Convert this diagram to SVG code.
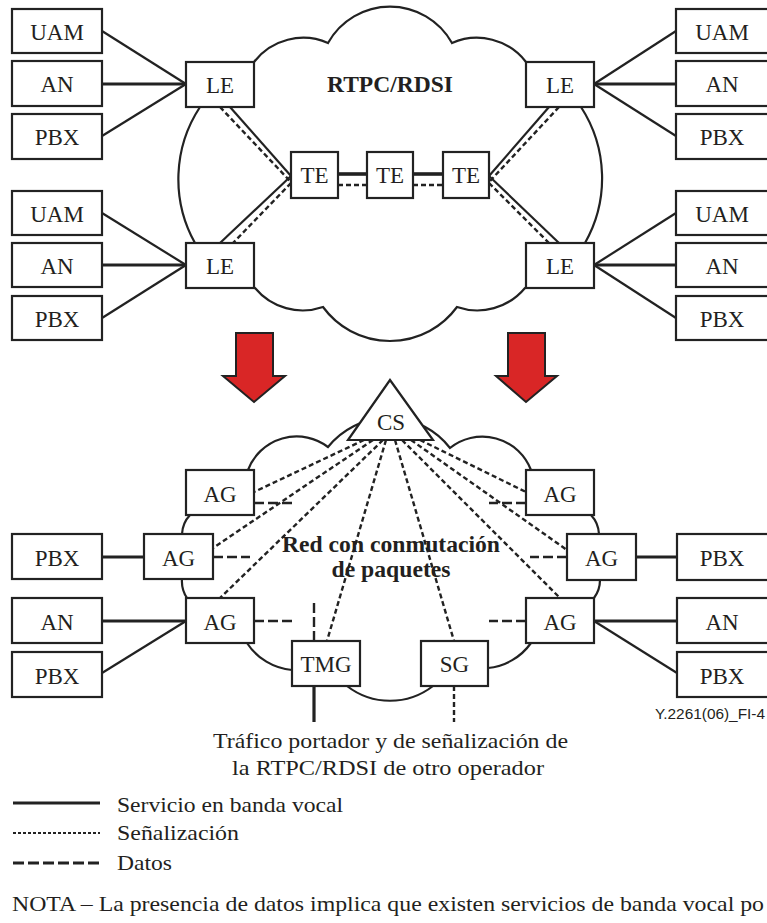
<svg xmlns="http://www.w3.org/2000/svg" width="767" height="923" viewBox="0 0 767 923">
<style>
.bx{fill:#fff;stroke:#222;stroke-width:2.2}
.t{font-family:"Liberation Serif","Times New Roman",serif;font-size:23px;fill:#231f20;text-anchor:middle}
.tb{font-family:"Liberation Serif","Times New Roman",serif;font-size:23px;font-weight:bold;fill:#231f20;text-anchor:middle}
.tl{font-family:"Liberation Serif","Times New Roman",serif;font-size:22px;fill:#231f20}
.cloud{fill:#fff;stroke:#222;stroke-width:2.2;stroke-linejoin:miter}
.v{stroke:#222;stroke-width:2.2;fill:none}
.vt{stroke:#222;stroke-width:3.2;fill:none}
.s{stroke:#222;stroke-width:2.4;stroke-dasharray:5 3;fill:none}
.d{stroke:#222;stroke-width:2.4;stroke-dasharray:10 4;fill:none}
.arr{fill:#d92626;stroke:#222;stroke-width:2}
</style>

<!-- clouds -->
<g id="cloud-rtpc">
<path class="cloud" d="M254,62 A62,62 0 0 1 328,43 A71,71 0 0 1 452,43 A62,62 0 0 1 526,62 L581,107 A131,131 0 0 1 585,243 L525,288 A62,62 0 0 1 457,307 A83,83 0 0 1 323,307 A62,62 0 0 1 255,288 L195,243 A131,131 0 0 1 200,107 Z"/>
</g>
<g id="cloud-packet">
<path class="cloud" d="M248,470 A52,52 0 0 1 328,447 A77.6,77.6 0 0 1 450,448 A52,52 0 0 1 531,470 L591,515 A30,30 0 0 1 599,534 L600,580 A30,30 0 0 1 594,598 L531,643 A60,60 0 0 1 488,668 L433,686 A70,70 0 0 1 347,686 L292,670 A60,60 0 0 1 247,643 L187,598 A30,30 0 0 1 182,579 L182,534 A30,30 0 0 1 190,515 Z"/>
</g>

<!-- red arrows -->
<g id="arrow-left"><polygon class="arr" points="236,333 273,333 273,376 285,376 254,402 223,376 236,376"/></g>
<g id="arrow-right"><polygon class="arr" points="508,333 545,333 545,376 557,376 526,402 496,376 508,376"/></g>

<!-- connectors -->
<g id="connectors">
<line class="v" x1="102" y1="31" x2="186" y2="84"/>
<line class="vt" x1="102" y1="84" x2="186" y2="84"/>
<line class="v" x1="102" y1="136" x2="186" y2="84"/>
<line class="v" x1="102" y1="213" x2="186" y2="265"/>
<line class="vt" x1="102" y1="265" x2="186" y2="265"/>
<line class="v" x1="102" y1="318" x2="186" y2="265"/>
<line class="v" x1="594" y1="84" x2="676" y2="31"/>
<line class="vt" x1="594" y1="84" x2="676" y2="84"/>
<line class="v" x1="594" y1="84" x2="676" y2="136"/>
<line class="v" x1="594" y1="265" x2="676" y2="213"/>
<line class="vt" x1="594" y1="265" x2="676" y2="265"/>
<line class="v" x1="594" y1="265" x2="676" y2="318"/>
<line class="v" x1="230" y1="107" x2="291" y2="176"/>
<line class="s" x1="220" y1="107" x2="290" y2="181"/>
<line class="v" x1="291" y1="176" x2="220" y2="243"/>
<line class="s" x1="291" y1="183" x2="233" y2="243"/>
<line class="v" x1="549" y1="107" x2="489" y2="176"/>
<line class="s" x1="559" y1="107" x2="490" y2="181"/>
<line class="v" x1="489" y1="176" x2="559" y2="243"/>
<line class="s" x1="489" y1="183" x2="549" y2="243"/>
<line class="vt" x1="338" y1="174" x2="367" y2="174" style="stroke-width:3.6"/>
<line class="vt" x1="413" y1="174" x2="443" y2="174" style="stroke-width:3.6"/>
<line class="s" x1="338" y1="185" x2="367" y2="185"/>
<line class="s" x1="413" y1="185" x2="443" y2="185"/>
<line class="s" x1="364" y1="440" x2="254" y2="492"/>
<line class="s" x1="373" y1="440" x2="213" y2="548"/>
<line class="s" x1="383" y1="440" x2="220" y2="598"/>
<line class="s" x1="386" y1="440" x2="327" y2="641"/>
<line class="s" x1="395" y1="440" x2="454" y2="641"/>
<line class="s" x1="402" y1="440" x2="560" y2="598"/>
<line class="s" x1="411" y1="440" x2="567" y2="550"/>
<line class="s" x1="420" y1="440" x2="526" y2="492"/>
<line class="d" x1="254" y1="503" x2="292" y2="503"/>
<line class="d" x1="213" y1="557" x2="250" y2="557"/>
<line class="d" x1="254" y1="621" x2="292" y2="621"/>
<line class="d" x1="314" y1="641" x2="314" y2="602"/>
<line class="d" x1="526" y1="503" x2="489" y2="503"/>
<line class="d" x1="567" y1="557" x2="530" y2="557"/>
<line class="d" x1="526" y1="621" x2="489" y2="621"/>
<line class="vt" x1="102" y1="557" x2="144" y2="557"/>
<line class="vt" x1="102" y1="621" x2="186" y2="621"/>
<line class="v" x1="102" y1="673" x2="186" y2="621"/>
<line class="vt" x1="636" y1="557" x2="677" y2="557"/>
<line class="vt" x1="594" y1="621" x2="677" y2="621"/>
<line class="v" x1="594" y1="621" x2="677" y2="673"/>
<line class="vt" x1="314" y1="686" x2="314" y2="722"/>
<line class="s" x1="454" y1="686" x2="454" y2="722"/>
</g>

<!-- top section nodes -->
<g id="uam-tl"><rect class="bx" x="12" y="9" width="90" height="44"/><text class="t" x="57" y="40">UAM</text></g>
<g id="an-tl"><rect class="bx" x="12" y="61" width="90" height="45"/><text class="t" x="57" y="92">AN</text></g>
<g id="pbx-tl"><rect class="bx" x="12" y="114" width="90" height="45"/><text class="t" x="57" y="145">PBX</text></g>
<g id="uam-bl"><rect class="bx" x="12" y="191" width="90" height="44"/><text class="t" x="57" y="222">UAM</text></g>
<g id="an-bl"><rect class="bx" x="12" y="243" width="90" height="44"/><text class="t" x="57" y="274">AN</text></g>
<g id="pbx-bl"><rect class="bx" x="12" y="296" width="90" height="44"/><text class="t" x="57" y="327">PBX</text></g>
<g id="uam-tr"><rect class="bx" x="676" y="9" width="93" height="44"/><text class="t" x="722" y="40">UAM</text></g>
<g id="an-tr"><rect class="bx" x="676" y="61" width="93" height="45"/><text class="t" x="722" y="92">AN</text></g>
<g id="pbx-tr"><rect class="bx" x="676" y="114" width="93" height="45"/><text class="t" x="722" y="145">PBX</text></g>
<g id="uam-br"><rect class="bx" x="676" y="191" width="93" height="44"/><text class="t" x="722" y="222">UAM</text></g>
<g id="an-br"><rect class="bx" x="676" y="243" width="93" height="44"/><text class="t" x="722" y="274">AN</text></g>
<g id="pbx-br"><rect class="bx" x="676" y="296" width="93" height="44"/><text class="t" x="722" y="327">PBX</text></g>
<g id="le-tl"><rect class="bx" x="186" y="62" width="68" height="45"/><text class="t" x="220" y="93">LE</text></g>
<g id="le-bl"><rect class="bx" x="186" y="243" width="68" height="45"/><text class="t" x="220" y="274">LE</text></g>
<g id="le-tr"><rect class="bx" x="526" y="62" width="68" height="45"/><text class="t" x="560" y="93">LE</text></g>
<g id="le-br"><rect class="bx" x="526" y="243" width="68" height="45"/><text class="t" x="560" y="274">LE</text></g>
<g id="te-1"><rect class="bx" x="291" y="152" width="47" height="46"/><text class="t" x="314.5" y="183">TE</text></g>
<g id="te-2"><rect class="bx" x="367" y="152" width="46" height="46"/><text class="t" x="390" y="183">TE</text></g>
<g id="te-3"><rect class="bx" x="443" y="152" width="46" height="46"/><text class="t" x="466" y="183">TE</text></g>
<g id="label-rtpc"><text class="tb" x="390" y="92" textLength="126" lengthAdjust="spacingAndGlyphs">RTPC/RDSI</text></g>

<!-- bottom section nodes -->
<g id="cs"><polygon class="bx" points="390,380 433,440 348,440"/><text class="t" x="391" y="430">CS</text></g>
<g id="ag-l1"><rect class="bx" x="186" y="470" width="68" height="45"/><text class="t" x="220" y="502">AG</text></g>
<g id="ag-l2"><rect class="bx" x="144" y="534" width="69" height="45"/><text class="t" x="178.5" y="566">AG</text></g>
<g id="ag-l3"><rect class="bx" x="186" y="598" width="68" height="45"/><text class="t" x="220" y="630">AG</text></g>
<g id="ag-r1"><rect class="bx" x="526" y="470" width="68" height="45"/><text class="t" x="560" y="502">AG</text></g>
<g id="ag-r2"><rect class="bx" x="567" y="534" width="69" height="46"/><text class="t" x="601.5" y="566">AG</text></g>
<g id="ag-r3"><rect class="bx" x="526" y="598" width="68" height="45"/><text class="t" x="560" y="630">AG</text></g>
<g id="tmg"><rect class="bx" x="292" y="641" width="68" height="45"/><text class="t" x="326" y="672">TMG</text></g>
<g id="sg"><rect class="bx" x="421" y="641" width="67" height="45"/><text class="t" x="454.5" y="672">SG</text></g>
<g id="pbx-l2"><rect class="bx" x="12" y="534" width="90" height="45"/><text class="t" x="57" y="566">PBX</text></g>
<g id="an-l3"><rect class="bx" x="12" y="598" width="90" height="45"/><text class="t" x="57" y="630">AN</text></g>
<g id="pbx-l4"><rect class="bx" x="12" y="652" width="90" height="45"/><text class="t" x="57" y="684">PBX</text></g>
<g id="pbx-r2"><rect class="bx" x="677" y="534" width="92" height="46"/><text class="t" x="722" y="566">PBX</text></g>
<g id="an-r3"><rect class="bx" x="677" y="598" width="92" height="45"/><text class="t" x="722" y="630">AN</text></g>
<g id="pbx-r4"><rect class="bx" x="677" y="652" width="92" height="45"/><text class="t" x="722" y="684">PBX</text></g>
<g id="label-packet"><text class="tb" x="391" y="552" textLength="218" lengthAdjust="spacingAndGlyphs">Red con conmutación</text><text class="tb" x="391" y="577" textLength="119" lengthAdjust="spacingAndGlyphs">de paquetes</text></g>

<!-- texts -->
<text x="655" y="719" textLength="110" lengthAdjust="spacingAndGlyphs" style="font-family:'Liberation Sans',Arial,sans-serif;font-size:14px;fill:#231f20">Y.2261(06)_FI-4</text>
<text class="tl" x="213" y="748" textLength="355" lengthAdjust="spacingAndGlyphs">Tráfico portador y de señalización de</text>
<text class="tl" x="232" y="775" textLength="312" lengthAdjust="spacingAndGlyphs">la RTPC/RDSI de otro operador</text>

<g id="legend">
<line x1="13" y1="803" x2="100" y2="803" style="stroke:#222;stroke-width:3"/>
<line x1="13" y1="833" x2="100" y2="833" style="stroke:#222;stroke-width:2;stroke-dasharray:3 2"/>
<line x1="13" y1="863" x2="100" y2="863" style="stroke:#222;stroke-width:3;stroke-dasharray:11 4"/>
<text class="tl" x="117" y="812" textLength="226" lengthAdjust="spacingAndGlyphs">Servicio en banda vocal</text>
<text class="tl" x="117" y="840" textLength="122" lengthAdjust="spacingAndGlyphs">Señalización</text>
<text class="tl" x="117" y="870" textLength="55" lengthAdjust="spacingAndGlyphs">Datos</text>
</g>
<text class="tl" x="12" y="911" textLength="752" lengthAdjust="spacingAndGlyphs">NOTA – La presencia de datos implica que existen servicios de banda vocal po</text>
</svg>
